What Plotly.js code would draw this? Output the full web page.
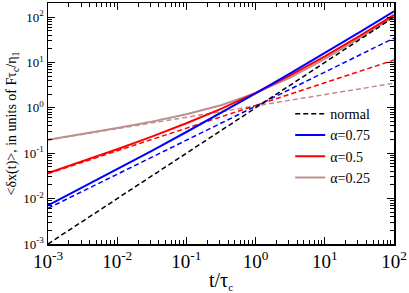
<!DOCTYPE html>
<html><head><meta charset="utf-8">
<script src="https://cdn.plot.ly/plotly-3.0.1.min.js"></script>
<style>html,body{margin:0;padding:0;background:#fff}</style>
</head><body><div id="chart" style="width:409px;height:293px"></div>
<script>
// t / tau_c sample points (half-decade steps)
const t = [0.001, 0.00316, 0.01, 0.0316, 0.1, 0.316, 1, 3.16, 10, 31.6, 100];
// normal (black dashed)
const normal = [0.001, 0.00316, 0.01, 0.0316, 0.1, 0.316, 1, 3.16, 10, 31.6, 100];
// alpha = 0.75
const a75Solid  = [0.00712, 0.01767, 0.0444, 0.1132, 0.2935, 0.7748, 2.088, 5.742, 16.12, 46.13, 134.4];
const a75Dashed = [0.00612, 0.01451, 0.0344, 0.0816, 0.1935, 0.4588, 1.088, 2.580, 6.118, 14.51, 34.40];
// alpha = 0.5
const a50Solid  = [0.03667, 0.06659, 0.1228, 0.2322, 0.4567, 0.9505, 2.128, 5.168, 13.57, 37.97, 111.3];
const a50Dashed = [0.03567, 0.06343, 0.1128, 0.2006, 0.3567, 0.6343, 1.128, 2.006, 3.567, 6.343, 11.28];
// alpha = 0.25
const a25Solid  = [0.1971, 0.2647, 0.3588, 0.4967, 0.7202, 1.143, 2.103, 4.633, 11.96, 34.23, 103.5];
const a25Dashed = [0.1961, 0.2615, 0.3488, 0.4651, 0.6202, 0.8271, 1.103, 1.471, 1.961, 2.615, 3.488];

const tickVals = [0.001, 0.01, 0.1, 1, 10, 100];
const tickText = ['10<sup>-3</sup>','10<sup>-2</sup>','10<sup>-1</sup>','10<sup>0</sup>','10<sup>1</sup>','10<sup>2</sup>'];

const blue = 'rgb(0,0,255)', red = 'rgb(255,0,0)', brown = 'rgb(188,143,143)';
const dashPat = '5px,3px';
const serif = '"Liberation Serif", "Times New Roman", Times, serif';

const traces = [
  {x: t, y: a25Dashed, mode: 'lines', line: {color: brown, width: 1.5, dash: dashPat}, showlegend: false},
  {x: t, y: a50Dashed, mode: 'lines', line: {color: red, width: 1.5, dash: dashPat}, showlegend: false},
  {x: t, y: a75Dashed, mode: 'lines', line: {color: blue, width: 1.5, dash: dashPat}, showlegend: false},
  {x: t, y: a25Solid, mode: 'lines', line: {color: brown, width: 2}, showlegend: false},
  {x: t, y: a50Solid, mode: 'lines', line: {color: red, width: 2}, showlegend: false},
  {x: t, y: a75Solid, mode: 'lines', line: {color: blue, width: 2}, showlegend: false},
  {x: t, y: normal, mode: 'lines', name: 'normal', line: {color: 'black', width: 1.5, dash: dashPat}},
  {x: [null], y: [null], mode: 'lines', name: 'α=0.75', line: {color: blue, width: 2}},
  {x: [null], y: [null], mode: 'lines', name: 'α=0.5', line: {color: red, width: 2}},
  {x: [null], y: [null], mode: 'lines', name: 'α=0.25', line: {color: brown, width: 2}}
];

const axisCommon = {
  type: 'log', showline: true, linecolor: 'black', linewidth: 1.5, mirror: 'allticks',
  ticks: 'inside', ticklen: 7, tickcolor: 'black', tickwidth: 1,
  minor: {ticks: 'inside', ticklen: 4, dtick: 'D1', tickcolor: 'black', tickwidth: 1},
  showgrid: false, zeroline: false,
  tickmode: 'array', tickvals: tickVals, ticktext: tickText
};

const layout = {
  width: 409, height: 293,
  margin: {l: 48, r: 15, t: 3, b: 49},
  paper_bgcolor: 'white', plot_bgcolor: 'white',
  font: {family: serif, color: 'black'},
  xaxis: Object.assign({}, axisCommon, {
    range: [-3, 2],
    tickfont: {size: 19, family: serif},
    title: {text: 't/τ<sub><span style="font-size:11px">c</span></sub>', font: {size: 20, family: serif}, standoff: 2}
  }),
  yaxis: Object.assign({}, axisCommon, {
    range: [-3, 2.31],
    tickfont: {size: 13, family: serif},
    title: {text: '&lt;δx(t)&gt;, in units of Fτ<sub>c</sub>/η<sub>1</sub>', font: {size: 14, family: serif}, standoff: 3}
  }),
  showlegend: true,
  legend: {x: 0.7, y: 0.605, xanchor: 'left', yanchor: 'top', bgcolor: 'rgba(0,0,0,0)',
           font: {size: 14, family: serif}, tracegroupgap: 0, itemwidth: 30}
};

Plotly.newPlot('chart', traces, layout, {staticPlot: true, displayModeBar: false});
</script></body></html>
